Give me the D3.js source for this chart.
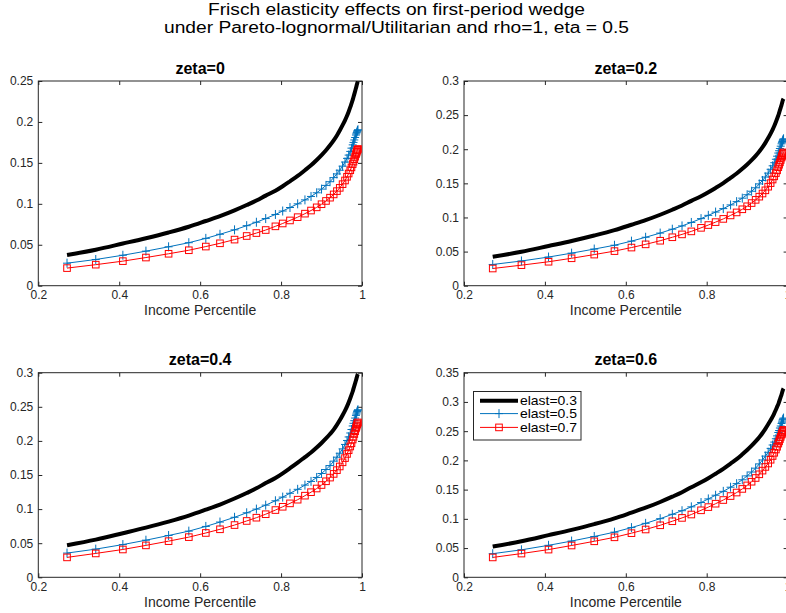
<!DOCTYPE html>
<html><head><meta charset="utf-8">
<script src="https://cdn.jsdelivr.net/npm/d3@7"></script>
<style>
html,body{margin:0;padding:0;background:#fff;}
svg{display:block;font-family:"Liberation Sans",Arial,Helvetica,sans-serif;}
</style></head>
<body><svg id="chart" width="786" height="613"></svg>
<script>
// ---------- data ----------
const titleLines = ["Frisch elasticity effects on first-period wedge",
                    "under Pareto-lognormal/Utilitarian and rho=1, eta = 0.5"];
const panelTitles = ["zeta=0","zeta=0.2","zeta=0.4","zeta=0.6"];
const seriesNames = ["elast=0.3","elast=0.5","elast=0.7"];
const xLabel = "Income Percentile";
const xTicks = [0.2,0.4,0.6,0.8,1];
const xTickLabels = ["0.2","0.4","0.6","0.8","1"];
const yMaxes = [0.25,0.3,0.3,0.35];
const yTicksP1 = [0,0.05,0.1,0.15,0.2,0.25];
const yTicksP2 = [0,0.05,0.1,0.15,0.2,0.25,0.3];
const yTicksP3 = [0,0.05,0.1,0.15,0.2,0.25,0.3];
const yTicksP4 = [0,0.05,0.1,0.15,0.2,0.25,0.3,0.35];

const xPercentile = [0.271,0.342,0.409,0.466,0.522,0.572,0.614,0.649,0.685,0.715,0.739,0.762,0.786,0.804,0.822,0.841,0.859,0.874,0.888,0.900,0.911,0.921,0.930,0.938,0.945,0.952,0.958,0.963,0.967,0.971,0.974,0.977,0.979,0.981,0.983,0.985,0.986,0.987,0.988,0.989,0.990];

const e03z0 = [0.0375,0.0440,0.0515,0.0580,0.0650,0.0720,0.0790,0.0850,0.0920,0.0985,0.1040,0.1100,0.1160,0.1215,0.1275,0.1340,0.1410,0.1470,0.1535,0.1595,0.1655,0.1715,0.1775,0.1835,0.1895,0.1960,0.2020,0.2075,0.2125,0.2180,0.2225,0.2270,0.2305,0.2340,0.2375,0.2410,0.2430,0.2450,0.2470,0.2485,0.2495];
const e05z0 = [0.0275,0.0320,0.0372,0.0422,0.0475,0.0525,0.0578,0.0628,0.0682,0.0733,0.0775,0.0820,0.0870,0.0912,0.0955,0.1000,0.1048,0.1090,0.1135,0.1180,0.1225,0.1270,0.1320,0.1365,0.1410,0.1460,0.1510,0.1555,0.1595,0.1640,0.1680,0.1720,0.1750,0.1780,0.1810,0.1840,0.1855,0.1870,0.1885,0.1895,0.1905];
const e07z0 = [0.0215,0.0257,0.0300,0.0344,0.0390,0.0433,0.0478,0.0518,0.0563,0.0607,0.0643,0.0680,0.0725,0.0760,0.0797,0.0837,0.0880,0.0918,0.0957,0.0995,0.1035,0.1075,0.1115,0.1155,0.1195,0.1240,0.1285,0.1330,0.1370,0.1410,0.1445,0.1485,0.1515,0.1545,0.1575,0.1605,0.1620,0.1635,0.1650,0.1660,0.1670];

const e03z2 = [0.0424,0.0497,0.0582,0.0655,0.0735,0.0814,0.0893,0.0961,0.1040,0.1113,0.1175,0.1243,0.1311,0.1370,0.1433,0.1504,0.1580,0.1644,0.1713,0.1777,0.1840,0.1903,0.1966,0.2030,0.2093,0.2163,0.2228,0.2287,0.2340,0.2399,0.2446,0.2495,0.2533,0.2572,0.2610,0.2649,0.2670,0.2692,0.2714,0.2730,0.2741];
const e05z2 = [0.0311,0.0362,0.0420,0.0477,0.0537,0.0593,0.0653,0.0710,0.0771,0.0828,0.0876,0.0927,0.0983,0.1031,0.1079,0.1130,0.1184,0.1232,0.1283,0.1333,0.1384,0.1435,0.1492,0.1542,0.1593,0.1650,0.1706,0.1757,0.1802,0.1853,0.1898,0.1944,0.1978,0.2011,0.2045,0.2079,0.2096,0.2113,0.2130,0.2141,0.2153];
const e07z2 = [0.0252,0.0301,0.0351,0.0402,0.0456,0.0507,0.0559,0.0606,0.0659,0.0710,0.0752,0.0796,0.0848,0.0889,0.0932,0.0979,0.1030,0.1074,0.1120,0.1164,0.1211,0.1258,0.1305,0.1351,0.1398,0.1451,0.1503,0.1556,0.1603,0.1650,0.1691,0.1737,0.1773,0.1808,0.1843,0.1878,0.1895,0.1913,0.1931,0.1942,0.1954];

const e03z4 = [0.0471,0.0552,0.0646,0.0728,0.0816,0.0904,0.0991,0.1067,0.1155,0.1236,0.1305,0.1381,0.1456,0.1525,0.1600,0.1682,0.1763,0.1830,0.1903,0.1970,0.2036,0.2101,0.2166,0.2235,0.2302,0.2376,0.2444,0.2507,0.2563,0.2625,0.2674,0.2724,0.2766,0.2806,0.2845,0.2885,0.2906,0.2928,0.2952,0.2970,0.2982];
const e05z4 = [0.0355,0.0413,0.0480,0.0544,0.0613,0.0677,0.0746,0.0810,0.0880,0.0946,0.1000,0.1058,0.1122,0.1176,0.1232,0.1290,0.1352,0.1406,0.1464,0.1522,0.1580,0.1638,0.1703,0.1761,0.1819,0.1883,0.1948,0.2006,0.2058,0.2116,0.2167,0.2219,0.2258,0.2296,0.2335,0.2374,0.2393,0.2412,0.2432,0.2445,0.2457];
const e07z4 = [0.0292,0.0350,0.0408,0.0468,0.0530,0.0589,0.0650,0.0704,0.0766,0.0826,0.0874,0.0925,0.0986,0.1034,0.1084,0.1138,0.1197,0.1248,0.1302,0.1353,0.1408,0.1462,0.1516,0.1571,0.1625,0.1686,0.1748,0.1809,0.1863,0.1918,0.1965,0.2020,0.2060,0.2101,0.2142,0.2183,0.2203,0.2224,0.2244,0.2258,0.2271];

const e03z6 = [0.0525,0.0616,0.0721,0.0812,0.0910,0.1008,0.1106,0.1190,0.1288,0.1379,0.1456,0.1540,0.1624,0.1695,0.1772,0.1856,0.1946,0.2021,0.2103,0.2177,0.2251,0.2324,0.2396,0.2468,0.2539,0.2617,0.2687,0.2749,0.2805,0.2867,0.2915,0.2962,0.3003,0.3044,0.3085,0.3126,0.3149,0.3173,0.3199,0.3218,0.3231];
const e05z6 = [0.0404,0.0470,0.0547,0.0620,0.0698,0.0772,0.0850,0.0923,0.1003,0.1078,0.1139,0.1205,0.1279,0.1341,0.1404,0.1470,0.1541,0.1602,0.1668,0.1735,0.1801,0.1867,0.1940,0.2007,0.2073,0.2139,0.2205,0.2263,0.2313,0.2370,0.2419,0.2477,0.2511,0.2554,0.2588,0.2631,0.2653,0.2674,0.2696,0.2710,0.2724];
const e07z6 = [0.0340,0.0406,0.0474,0.0544,0.0616,0.0684,0.0755,0.0818,0.0890,0.0959,0.1016,0.1074,0.1146,0.1201,0.1259,0.1322,0.1390,0.1450,0.1512,0.1572,0.1635,0.1699,0.1762,0.1825,0.1888,0.1947,0.2011,0.2075,0.2130,0.2186,0.2233,0.2287,0.2326,0.2364,0.2402,0.2440,0.2454,0.2477,0.2492,0.2507,0.2522];

// ---------- layout ----------
const axisColor = "#262626";
const colors = ["#000000","#0072BD","#FF0000"];
const panels = [
  {x0:38.3, x1:362,   y0:81,    y1:285.7, yTicks:yTicksP1, series:[e03z0,e05z0,e07z0]},
  {x0:464,  x1:787.6, y0:81,    y1:285.7, yTicks:yTicksP2, series:[e03z2,e05z2,e07z2]},
  {x0:38.3, x1:362,   y0:372.7, y1:577.3, yTicks:yTicksP3, series:[e03z4,e05z4,e07z4]},
  {x0:464,  x1:787.6, y0:372.7, y1:577.3, yTicks:yTicksP4, series:[e03z6,e05z6,e07z6]}
];

const svg = d3.select("#chart");
svg.append("rect").attr("width",786).attr("height",613).attr("fill","#fff");

const titleWidths = [377, 465];
titleLines.forEach((t,i)=>{
  svg.append("text").attr("x",396.5).attr("y",i===0?14.5:32.5)
    .attr("text-anchor","middle").attr("font-size",16).attr("fill","#000")
    .attr("textLength",titleWidths[i]).attr("lengthAdjust","spacingAndGlyphs")
    .text(t);
});

const fmtY = v => v===0 ? "0" : String(+v.toFixed(2));

panels.forEach((p,pi)=>{
  const x = d3.scaleLinear().domain([0.2,1]).range([p.x0,p.x1]);
  const y = d3.scaleLinear().domain([0,yMaxes[pi]]).range([p.y1,p.y0]);
  const g = svg.append("g");

  const cid = "clip"+pi;
  svg.append("clipPath").attr("id",cid).append("rect")
    .attr("x",p.x0).attr("y",p.y0).attr("width",p.x1-p.x0).attr("height",p.y1-p.y0);

  const styleAxis = sel => {
    sel.select(".domain").remove();
    sel.selectAll("line").attr("stroke",axisColor);
    sel.selectAll("text").attr("fill",axisColor).attr("font-size",12)
       .attr("font-family",'"Liberation Sans",Arial,Helvetica,sans-serif');
  };
  g.append("g").attr("transform",`translate(0,${p.y1})`)
    .call(d3.axisBottom(x).tickValues(xTicks).tickFormat((d,i)=>xTickLabels[i]).tickSizeInner(-4).tickSizeOuter(0).tickPadding(5))
    .call(styleAxis);
  g.append("g").attr("transform",`translate(0,${p.y0})`)
    .call(d3.axisTop(x).tickValues(xTicks).tickFormat("").tickSizeInner(-4).tickSizeOuter(0))
    .call(styleAxis);
  g.append("g").attr("transform",`translate(${p.x0},0)`)
    .call(d3.axisLeft(y).tickValues(p.yTicks).tickFormat(fmtY).tickSizeInner(-4).tickSizeOuter(0).tickPadding(5))
    .call(styleAxis);
  g.append("g").attr("transform",`translate(${p.x1},0)`)
    .call(d3.axisRight(y).tickValues(p.yTicks).tickFormat("").tickSizeInner(-4).tickSizeOuter(0))
    .call(styleAxis);
  g.append("rect").attr("x",p.x0).attr("y",p.y0).attr("width",p.x1-p.x0).attr("height",p.y1-p.y0)
    .attr("fill","none").attr("stroke",axisColor).attr("stroke-width",1);

  g.append("text").attr("x",(p.x0+p.x1)/2).attr("y",p.y0-7.5).attr("text-anchor","middle")
    .attr("font-weight","bold").attr("font-size",16).attr("fill","#000").text(panelTitles[pi]);
  g.append("text").attr("x",(p.x0+p.x1)/2).attr("y",p.y1+29.5).attr("text-anchor","middle")
    .attr("font-size",14).attr("fill",axisColor).text(xLabel);

  const plot = g.append("g").attr("clip-path",`url(#${cid})`);
  p.series.forEach((vals,si)=>{
    const pts = xPercentile.map((xv,k)=>[xv,vals[k]]);
    const line = d3.line().x(d=>x(d[0])).y(d=>y(d[1]));
    if(si===0) line.curve(d3.curveMonotoneX);
    plot.append("path").attr("d",line(pts)).attr("fill","none")
      .attr("stroke",colors[si]).attr("stroke-width",si===0?4:1).attr("stroke-linejoin","round");
    if(si===1){
      plot.selectAll(null).data(pts).enter().append("path")
        .attr("d",d=>`M${x(d[0])-4},${y(d[1])}h8M${x(d[0])},${y(d[1])-4.5}v9`)
        .attr("stroke",colors[1]).attr("stroke-width",1).attr("fill","none");
    }
    if(si===2){
      plot.selectAll(null).data(pts).enter().append("rect")
        .attr("x",d=>x(d[0])-3.3).attr("y",d=>y(d[1])-3.3).attr("width",6.6).attr("height",6.6)
        .attr("stroke",colors[2]).attr("stroke-width",1).attr("fill","none");
    }
  });

  if(pi===3){
    const lg = g.append("g");
    lg.append("rect").attr("x",473.5).attr("y",391.5).attr("width",107.5).attr("height",48.5)
      .attr("fill","#fff").attr("stroke",axisColor).attr("stroke-width",1);
    const rows = [400.7,413.6,427.4];
    seriesNames.forEach((nm,si)=>{
      const yy = rows[si];
      lg.append("line").attr("x1",480).attr("x2",518).attr("y1",yy).attr("y2",yy)
        .attr("stroke",colors[si]).attr("stroke-width",si===0?4:1);
      if(si===1) lg.append("path").attr("d",`M495,${yy}h8M499,${yy-4.5}v9`).attr("stroke",colors[1]).attr("fill","none");
      if(si===2) lg.append("rect").attr("x",495.7).attr("y",yy-3.3).attr("width",6.6).attr("height",6.6)
        .attr("stroke",colors[2]).attr("fill","none");
      lg.append("text").attr("x",520).attr("y",yy+4.6).attr("font-size",13).attr("fill","#000")
        .attr("textLength",57).attr("lengthAdjust","spacingAndGlyphs").text(nm);
    });
  }
});
</script>
</body></html>
